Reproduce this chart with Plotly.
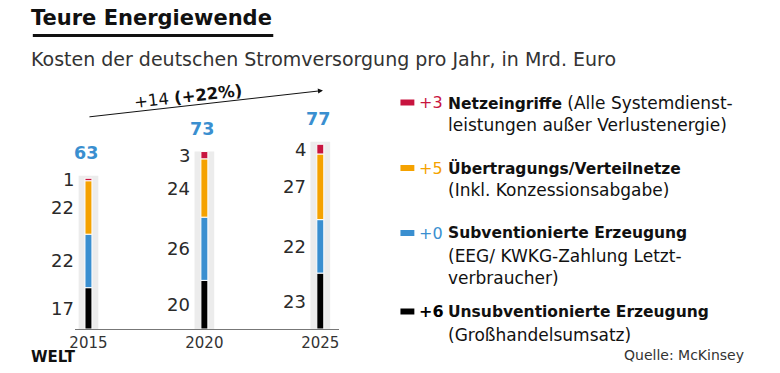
import plotly.graph_objects as go

years = ["2015", "2020", "2025"]
unsubv = [17, 20, 23]      # Unsubventionierte Erzeugung (black)
subv = [22, 26, 22]        # Subventionierte Erzeugung (blue)
netze = [22, 24, 27]       # Übertragungs/Verteilnetze (orange)
eingriffe = [1, 3, 4]      # Netzeingriffe (red)
totals = [63, 73, 77]

series = [
    ("Unsubventionierte Erzeugung", unsubv, "#000000"),
    ("Subventionierte Erzeugung", subv, "#3a8fd0"),
    ("Übertragungs/Verteilnetze", netze, "#f5a200"),
    ("Netzeingriffe", eingriffe, "#c8143f"),
]

legend_items = [
    ("+3", "#c8143f", "Netzeingriffe", [" (Alle Systemdienst-", "leistungen außer Verlustenergie)"]),
    ("+5", "#f5a200", "Übertragungs/Verteilnetze", ["", "(Inkl. Konzessionsabgabe)"]),
    ("+0", "#3a8fd0", "Subventionierte Erzeugung", ["", "(EEG/ KWKG-Zahlung Letzt-", "verbraucher)"]),
    ("+6", "#000000", "Unsubventionierte Erzeugung", ["", "(Großhandelsumsatz)"]),
]

FONT = "DejaVu Sans"
W, H = 780, 373
SHIFT = -2      # small global horizontal correction
LPAD = -3       # extra correction for left-anchored texts

def px(x):
    return (x + SHIFT) / W

def tx(x):
    return (x + SHIFT + LPAD) / W

def py(y):
    return 1 - y / H

fig = go.Figure()

# light grey background columns
fig.add_trace(go.Bar(x=years, y=totals, width=0.17, marker=dict(color="#ececec", line=dict(width=0)),
                     hoverinfo="skip", showlegend=False))

base = [0, 0, 0]
annotations = []
for name, vals, col in series:
    fig.add_trace(go.Bar(x=years, y=vals, base=list(base), width=0.06, name=name,
                         marker=dict(color=col, line=dict(color="white", width=1)),
                         showlegend=False))
    for i, v in enumerate(vals):
        annotations.append(dict(x=i, y=base[i] + v / 2, xref="x", yref="y", text=str(v),
                                showarrow=False, xanchor="right", yanchor="middle", xshift=-12,
                                font=dict(family=FONT, size=18, color="#2a2a2a")))
    base = [b + v for b, v in zip(base, vals)]

for i, t in enumerate(totals):
    annotations.append(dict(x=i, y=t, xref="x", yref="y", text=f"<b>{t}</b>", showarrow=False,
                            xanchor="center", yanchor="bottom", yshift=11, xshift=-2,
                            font=dict(family=FONT, size=17.5, color="#3a8fd0")))

# title, subtitle
annotations.append(dict(x=tx(29), y=py(18), xref="paper", yref="paper", text="<b>Teure Energiewende</b>",
                        showarrow=False, xanchor="left", yanchor="middle",
                        font=dict(family=FONT, size=21, color="#111111")))
annotations.append(dict(x=tx(29), y=py(59), xref="paper", yref="paper",
                        text="Kosten der deutschen Stromversorgung pro Jahr, in Mrd. Euro",
                        showarrow=False, xanchor="left", yanchor="middle",
                        font=dict(family=FONT, size=19, color="#333333")))

# arrow
annotations.append(dict(x=px(322), y=py(90.5), ax=87 - 322, ay=117 - 90.5, xref="paper", yref="paper",
                        axref="pixel", ayref="pixel", text="", showarrow=True, arrowhead=2,
                        arrowsize=1, arrowwidth=1, arrowcolor="#111111"))
annotations.append(dict(x=px(186), y=py(97), xref="paper", yref="paper", text="+14 <b>(+22%)</b>",
                        showarrow=False, textangle=-6.3, xanchor="center", yanchor="middle",
                        font=dict(family=FONT, size=16.5, color="#111111")))

# legend
REG = "font-size:17px"
shapes = []
line_y = [[102.5, 125], [168, 190], [233, 255.5, 277.5], [311.5, 334.5]]
for (delta, col, bold, rest), ys in zip(legend_items, line_y):
    shapes.append(dict(type="rect", xref="paper", yref="paper", x0=px(400), x1=px(414),
                       y0=py(ys[0] + 3), y1=py(ys[0] - 3), fillcolor=col, line=dict(width=0)))
    annotations.append(dict(x=tx(420), y=py(ys[0]), xref="paper", yref="paper",
                            text=f"<b>{delta}</b>" if col == "#000000" else delta,
                            showarrow=False, xanchor="left", yanchor="middle",
                            font=dict(family=FONT, size=16, color=col)))
    first = f"<b>{bold}</b>" + (f"<span style='{REG}'>{rest[0]}</span>" if rest[0] else "")
    annotations.append(dict(x=tx(449), y=py(ys[0]), xref="paper", yref="paper", text=first,
                            showarrow=False, xanchor="left", yanchor="middle",
                            font=dict(family=FONT, size=15.5, color="#111111")))
    for txt, yy in zip(rest[1:], ys[1:]):
        annotations.append(dict(x=tx(449), y=py(yy), xref="paper", yref="paper", text=txt,
                                showarrow=False, xanchor="left", yanchor="middle",
                                font=dict(family=FONT, size=17, color="#111111")))

# title underline
shapes.append(dict(type="line", xref="paper", yref="paper", x0=px(30), x1=px(272), y0=py(35.5), y1=py(35.5),
                   line=dict(color="#111111", width=3)))

# source and logo
annotations.append(dict(x=px(748), y=py(355), xref="paper", yref="paper", text="Quelle: McKinsey",
                        showarrow=False, xanchor="right", yanchor="middle",
                        font=dict(family=FONT, size=14, color="#333333")))
annotations.append(dict(x=tx(29), y=py(357), xref="paper", yref="paper", text="<b>WELT</b>",
                        showarrow=False, xanchor="left", yanchor="middle",
                        font=dict(family=FONT, size=15, color="#111111")))

fig.update_layout(
    width=W, height=H, margin=dict(l=0, r=0, t=0, b=0),
    paper_bgcolor="white", plot_bgcolor="white", barmode="overlay",
    showlegend=False, annotations=annotations, shapes=shapes,
    xaxis=dict(domain=[px(72), px(338)], type="category", range=[-0.12, 2.16], showgrid=False,
               showline=True, linecolor="#777777", linewidth=1, ticks="", zeroline=False,
               tickfont=dict(family=FONT, size=15, color="#333333"), fixedrange=True),
    yaxis=dict(domain=[py(329), py(100)], range=[0, 94.2], showgrid=False, showticklabels=False,
               zeroline=False, showline=False, fixedrange=True),
)

fig.write_html("out.html", config={"displayModeBar": False},
               post_script="document.body.style.margin='0px';")
